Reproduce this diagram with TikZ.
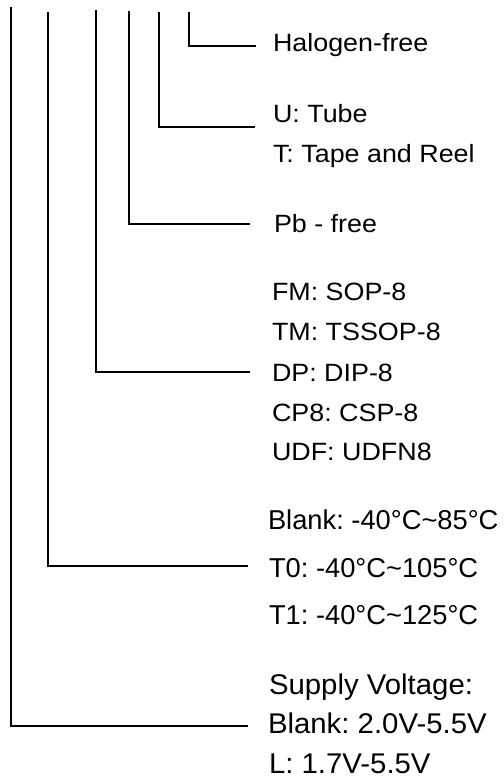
\documentclass[tikz,border=0pt]{standalone}
\usepackage{fontspec}
\setmainfont{Liberation Sans}
\newfontfamily\widefont[FakeStretch=1.075]{Liberation Sans}
\newfontfamily\midfont[FakeStretch=1.03]{Liberation Sans}
\frenchspacing
\begin{document}
\begin{tikzpicture}[x=1pt,y=-1pt,
  wire/.style={line width=1.7pt,line cap=butt},
  lab/.style={anchor=base west,inner sep=0pt,outer sep=0pt,font=\widefont\fontsize{25}{30}\selectfont},
  labm/.style={lab,font=\fontsize{27.3}{33}\selectfont},
  labl/.style={lab,font=\midfont\fontsize{28.5}{34}\selectfont}]
\useasboundingbox (0,0) rectangle (503,781);
% tops of the vertical lines
\coordinate (t1) at (11,7);
\coordinate (t2) at (48,12);
\coordinate (t3) at (96,10);
\coordinate (t4) at (129,11);
\coordinate (t5) at (159,12);
\coordinate (t6) at (189,12);
% ends of the horizontal lines
\coordinate (e6) at (256,45.7);
\coordinate (e5) at (255,127);
\coordinate (e4) at (250,224);
\coordinate (e3) at (250,372);
\coordinate (e2) at (248,566);
\coordinate (e1) at (248,726);
\draw[wire] (t1) |- (e1);
\draw[wire] (t2) |- (e2);
\draw[wire] (t3) |- (e3);
\draw[wire] (t4) |- (e4);
\draw[wire] (t5) |- (e5);
\draw[wire] (t6) |- (e6);
% labels
\node[lab] (hal) at (273,51.7) {Halogen-free};
\node[lab] (tube) at (273,123) {U: Tube};
\node[lab] (reel) at (273,162) {T: Tape and Reel};
\node[lab] (pb) at (274,232) {Pb - free};
\node[lab] (fm) at (272,300) {FM: SOP-8};
\node[lab] (tm) at (272,340) {TM: TSSOP-8};
\node[lab] (dp) at (272,381) {DP: DIP-8};
\node[lab] (cp) at (272,421) {CP8: CSP-8};
\node[lab] (udf) at (272,460) {UDF: UDFN8};
\node[labm] (tb) at (268,529) {Blank: -40°C\textasciitilde 85°C};
\node[labm] (t0) at (269,577) {T0: -40°C\textasciitilde 105°C};
\node[labm] (t1l) at (269,624) {T1: -40°C\textasciitilde 125°C};
\node[labl] (sv) at (269,694) {Supply Voltage:};
\node[labl] (vb) at (268,733) {Blank: 2.0V-5.5V};
\node[labl] (vl) at (269,773) {L: 1.7V-5.5V};
\end{tikzpicture}
\end{document}
